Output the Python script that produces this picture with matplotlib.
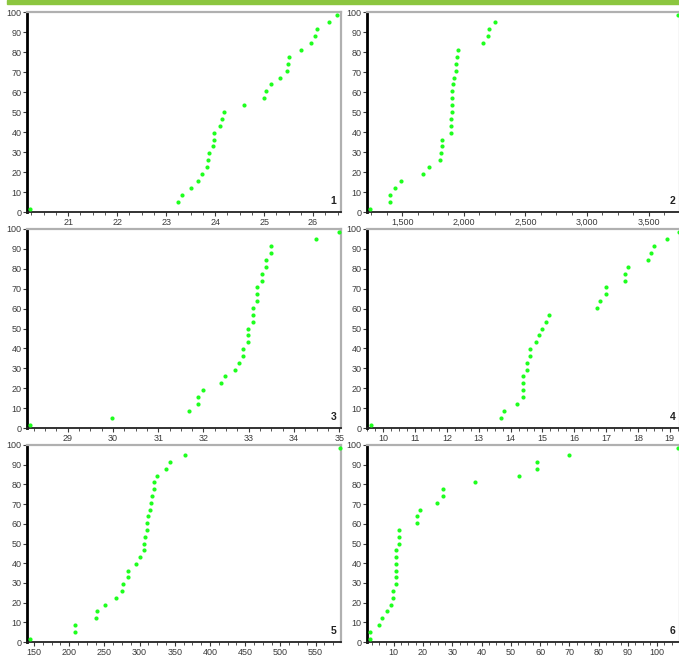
import numpy as np
import matplotlib
matplotlib.use('Agg')
import matplotlib.pyplot as plt
from matplotlib.ticker import MultipleLocator, FuncFormatter
from matplotlib.patches import Rectangle

plt.rcParams['font.family'] = ['Liberation Sans', 'DejaVu Sans']

# cumulative percent (same for all six panels)
pct = [1.7, 5.2, 8.6, 12.1, 15.5, 19.0, 22.4, 25.9, 29.3, 32.8, 36.2, 39.7, 43.1, 46.6,
       50.0, 53.4, 56.9, 60.3, 63.8, 67.2, 70.7, 74.1, 77.6, 81.0, 84.5, 87.9, 91.4, 94.8, 98.3]

x1 = [20.22, 23.24, 23.33, 23.51, 23.65, 23.73, 23.84, 23.85, 23.88, 23.95, 23.98, 23.98,
      24.10, 24.14, 24.19, 24.58, 25.00, 25.04, 25.14, 25.33, 25.46, 25.49, 25.51, 25.76,
      25.96, 26.04, 26.07, 26.32, 26.48]
x2 = [1243, 1402, 1402, 1446, 1492, 1671, 1717, 1809, 1814, 1820, 1822, 1893, 1898, 1898,
      1904, 1904, 1904, 1904, 1909, 1923, 1936, 1936, 1942, 1950, 2156, 2199, 2207, 2251, 3741]
x3 = [28.16, 29.98, 31.69, 31.88, 31.88, 31.99, 32.39, 32.48, 32.69, 32.78, 32.88, 32.88,
      32.99, 32.99, 32.99, 33.10, 33.10, 33.10, 33.19, 33.19, 33.19, 33.30, 33.30, 33.39,
      33.39, 33.49, 33.49, 34.49, 35.0]
x4 = [9.6, 13.7, 13.8, 14.2, 14.4, 14.4, 14.4, 14.4, 14.5, 14.5, 14.6, 14.6, 14.8, 14.9,
      15.0, 15.1, 15.2, 16.7, 16.8, 17.0, 17.0, 17.6, 17.6, 17.7, 18.3, 18.4, 18.5, 18.9, 19.3]
x5 = [144, 208, 208, 238, 240, 251, 267, 275, 276, 283, 284, 295, 301, 306, 306, 307, 310,
      310, 312, 314, 316, 317, 321, 321, 325, 337, 343, 365, 585]
x6 = [1.8, 1.8, 4.9, 5.9, 7.7, 8.9, 9.9, 9.9, 10.7, 10.7, 10.7, 10.7, 10.7, 10.7, 11.8,
      11.8, 11.8, 17.8, 17.8, 18.9, 24.9, 26.7, 26.7, 37.8, 52.9, 59.0, 59.0, 69.9, 107.0]

panels = [x1, x2, x3, x4, x5, x6]
xlims = [(20.16, 26.57), (1215, 3755), (28.1, 35.04), (9.49, 19.32), (140, 586), (0.86, 107.8)]
majors = [1, 500, 1, 1, 50, 10]

fig = plt.figure(figsize=(6.79, 6.58), dpi=100)
fig.patches.append(Rectangle((0.01, 0.994), 0.99, 0.006, transform=fig.transFigure,
                             color='#8cc63f', zorder=0))

W, H = 679, 658
lefts = [27, 367]
widths = [314, 313]
rows = [(12, 212), (229, 428), (445, 642)]

for i, xs in enumerate(panels):
    r, c = divmod(i, 2)
    top, bot = rows[r]
    ax = fig.add_axes([lefts[c] / W, (H - bot) / H, widths[c] / W, (bot - top) / H])
    ax.plot(xs, pct, linestyle='none', marker='o', ms=3.0, mew=0, color='#1eff1e',
            clip_on=False, zorder=5)
    ax.set_xlim(xlims[i])
    ax.set_ylim(0, 100)
    ax.xaxis.set_major_locator(MultipleLocator(majors[i]))
    ax.xaxis.set_minor_locator(MultipleLocator(majors[i] / 4))
    ax.yaxis.set_major_locator(MultipleLocator(10))
    if i == 1:
        ax.xaxis.set_major_formatter(FuncFormatter(lambda v, p: '{:,.0f}'.format(v)))
    ax.tick_params(axis='both', labelsize=6.5, colors='#3a3a3a', length=3, width=0.8,
                   direction='out', pad=1)
    ax.tick_params(axis='x', which='minor', length=2, width=0.6, colors='#3a3a3a')
    ax.spines['left'].set_linewidth(2)
    ax.spines['left'].set_color('black')
    ax.spines['bottom'].set_linewidth(1.3)
    ax.spines['bottom'].set_color('#222222')
    for s in ['top', 'right']:
        ax.spines[s].set_linewidth(1.6)
        ax.spines[s].set_color('#b0b0b0')
    ax.text(0.985, 0.03, str(i + 1), transform=ax.transAxes, ha='right', va='bottom',
            fontsize=7.5, fontweight='bold', color='#222222')

fig.savefig('out.png', dpi=100)
